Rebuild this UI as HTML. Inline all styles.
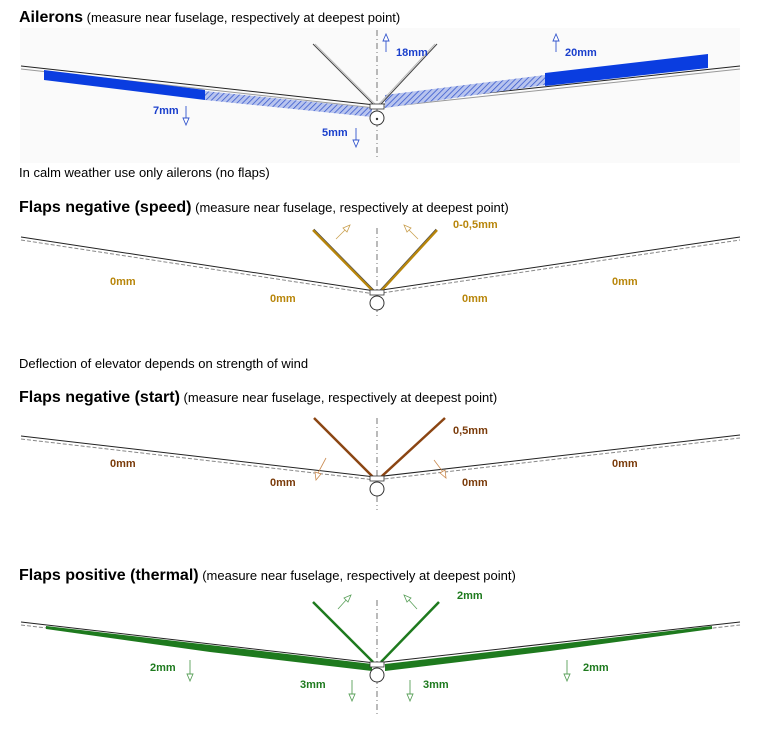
<!DOCTYPE html>
<html><head><meta charset="utf-8"><style>
html,body{margin:0;padding:0;background:#fff;}
svg{display:block;font-family:"Liberation Sans",Arial,sans-serif;}
.t{font-size:16px;font-weight:bold;fill:#000}
.s{font-size:13px;fill:#000;font-weight:normal}
.l{font-size:11px;font-weight:bold}
</style></head><body>
<svg width="762" height="738" viewBox="0 0 762 738" xmlns="http://www.w3.org/2000/svg">
<defs>
<pattern id="h" width="4" height="4" patternUnits="userSpaceOnUse" patternTransform="rotate(45)">
<rect width="4" height="4" fill="#b8c4ee"/><line x1="0" y1="0" x2="0" y2="4" stroke="#3355cc" stroke-width="1.5"/></pattern>
</defs>
<rect x="20" y="28" width="720" height="135" fill="#fafafa"/>

<!-- Section 1 -->
<text x="19" y="22"><tspan class="t">Ailerons</tspan><tspan class="s"> (measure near fuselage, respectively at deepest point)</tspan></text>
<line x1="377" y1="30" x2="377" y2="160" stroke="#555" stroke-dasharray="6,3,1,3" stroke-width="0.8"/>
<polyline points="21,66 375,105 740,66" fill="none" stroke="#222" stroke-width="1"/>
<polyline points="21,69 375,108 740,69" fill="none" stroke="#999" stroke-width="1"/>
<polygon points="44,70 205,90 205,100 44,80" fill="#0a3de0"/>
<polygon points="205,91 372,108 372,117 205,100" fill="url(#h)"/>
<polygon points="385,95 545,75 545,85 385,108" fill="url(#h)"/>
<polygon points="545,73 708,54 708,68 545,86" fill="#0a3de0"/>
<line x1="313" y1="44" x2="373" y2="104" stroke="#444" stroke-width="1"/>
<line x1="315" y1="44" x2="375" y2="104" stroke="#bbb" stroke-width="1"/>
<line x1="437" y1="44" x2="381" y2="104" stroke="#444" stroke-width="1"/>
<line x1="435" y1="44" x2="379" y2="104" stroke="#bbb" stroke-width="1"/>
<circle cx="377" cy="118" r="7" fill="#fff" stroke="#333"/>
<circle cx="377" cy="119" r="1.2" fill="#333"/>
<rect x="370" y="104" width="14" height="5" fill="#fff" stroke="#333" stroke-width="0.8"/>
<g class="l" fill="#1a3fcc">
<text x="396" y="56">18mm</text><text x="565" y="56">20mm</text>
<text x="153" y="114">7mm</text><text x="322" y="136">5mm</text></g>
<g stroke="#3355cc" stroke-width="0.9" fill="#fff">
<line x1="386" y1="52" x2="386" y2="40"/><path d="M383,41 L386,34 L389,41 Z"/>
<line x1="556" y1="52" x2="556" y2="40"/><path d="M553,41 L556,34 L559,41 Z"/>
<line x1="186" y1="106" x2="186" y2="118"/><path d="M183,118 L186,125 L189,118 Z"/>
<line x1="356" y1="128" x2="356" y2="140"/><path d="M353,140 L356,147 L359,140 Z"/></g>

<text x="19" y="177" class="s">In calm weather use only ailerons (no flaps)</text>

<!-- Section 2 -->
<text x="19" y="212"><tspan class="t">Flaps negative (speed)</tspan><tspan class="s"> (measure near fuselage, respectively at deepest point)</tspan></text>
<line x1="377" y1="228" x2="377" y2="318" stroke="#555" stroke-dasharray="6,3,1,3" stroke-width="0.8"/>
<polyline points="21,237 375,291 740,237" fill="none" stroke="#222" stroke-width="1"/>
<polyline points="21,240 375,294 740,240" fill="none" stroke="#888" stroke-width="1" stroke-dasharray="4,2"/>
<line x1="313" y1="230" x2="373" y2="291" stroke="#b8860b" stroke-width="2.5"/>
<line x1="437" y1="230" x2="381" y2="291" stroke="#b8860b" stroke-width="2.5"/>
<line x1="314" y1="229" x2="374" y2="290" stroke="#444" stroke-width="0.6"/>
<line x1="436" y1="229" x2="380" y2="290" stroke="#444" stroke-width="0.6"/>
<g stroke="#c9a050" stroke-width="0.8" fill="#fff">
<line x1="336" y1="239" x2="346" y2="229"/><path d="M343,228 L350,225 L347,232 Z"/>
<line x1="418" y1="239" x2="408" y2="229"/><path d="M411,228 L404,225 L407,232 Z"/></g>
<circle cx="377" cy="303" r="7" fill="#fff" stroke="#333"/>
<rect x="370" y="290" width="14" height="5" fill="#fff" stroke="#333" stroke-width="0.8"/>
<g class="l" fill="#b8860b">
<text x="453" y="228">0-0,5mm</text><text x="110" y="285">0mm</text><text x="270" y="302">0mm</text>
<text x="462" y="302">0mm</text><text x="612" y="285">0mm</text></g>

<text x="19" y="368" class="s">Deflection of elevator depends on strength of wind</text>

<!-- Section 3 -->
<text x="19" y="402"><tspan class="t">Flaps negative (start)</tspan><tspan class="s"> (measure near fuselage, respectively at deepest point)</tspan></text>
<line x1="377" y1="418" x2="377" y2="510" stroke="#555" stroke-dasharray="6,3,1,3" stroke-width="0.8"/>
<polyline points="21,436 375,477 740,435" fill="none" stroke="#222" stroke-width="1"/>
<polyline points="21,439 375,480 740,438" fill="none" stroke="#888" stroke-width="1" stroke-dasharray="4,2"/>
<line x1="314" y1="418" x2="373" y2="477" stroke="#8b4513" stroke-width="2.5"/>
<line x1="445" y1="418" x2="381" y2="477" stroke="#8b4513" stroke-width="2.5"/>
<g stroke="#c98a50" stroke-width="0.8" fill="#fff">
<line x1="326" y1="458" x2="318" y2="473"/><path d="M315,472 L316,480 L321,474 Z"/>
<line x1="434" y1="460" x2="443" y2="472"/><path d="M440,473 L446,478 L445,470 Z"/></g>
<circle cx="377" cy="489" r="7" fill="#fff" stroke="#333"/>
<rect x="370" y="476" width="14" height="5" fill="#fff" stroke="#333" stroke-width="0.8"/>
<g class="l" fill="#7a3b0a">
<text x="453" y="434">0,5mm</text><text x="110" y="467">0mm</text><text x="270" y="486">0mm</text>
<text x="462" y="486">0mm</text><text x="612" y="467">0mm</text></g>

<!-- Section 4 -->
<text x="19" y="580"><tspan class="t">Flaps positive (thermal)</tspan><tspan class="s"> (measure near fuselage, respectively at deepest point)</tspan></text>
<line x1="377" y1="600" x2="377" y2="715" stroke="#555" stroke-dasharray="6,3,1,3" stroke-width="0.8"/>
<polyline points="21,622 375,663 740,622" fill="none" stroke="#222" stroke-width="1"/>
<polyline points="21,625 375,666 740,625" fill="none" stroke="#888" stroke-width="1" stroke-dasharray="4,2"/>
<polygon points="46,626 210,645 372,664 372,671 210,652 46,629" fill="#1e7a1e"/>
<polygon points="385,664 550,645 712,626 712,629 550,651 385,671" fill="#1e7a1e"/>
<line x1="313" y1="602" x2="373" y2="662" stroke="#1e7a1e" stroke-width="2.5"/>
<line x1="439" y1="602" x2="381" y2="662" stroke="#1e7a1e" stroke-width="2.5"/>
<g stroke="#5aa05a" stroke-width="0.8" fill="#fff">
<line x1="338" y1="609" x2="347" y2="599"/><path d="M344,598 L351,595 L348,602 Z"/>
<line x1="417" y1="609" x2="408" y2="599"/><path d="M411,598 L404,595 L407,602 Z"/></g>
<circle cx="377" cy="675" r="7" fill="#fff" stroke="#333"/>
<rect x="370" y="662" width="14" height="5" fill="#fff" stroke="#333" stroke-width="0.8"/>
<g class="l" fill="#1e7a1e">
<text x="457" y="599">2mm</text><text x="150" y="671">2mm</text><text x="300" y="688">3mm</text>
<text x="423" y="688">3mm</text><text x="583" y="671">2mm</text></g>
<g stroke="#5aa05a" stroke-width="0.9" fill="none">
<line x1="190" y1="660" x2="190" y2="680"/><path d="M187,674 L190,681 L193,674 Z" fill="#fff"/>
<line x1="352" y1="680" x2="352" y2="700"/><path d="M349,694 L352,701 L355,694 Z" fill="#fff"/>
<line x1="410" y1="680" x2="410" y2="700"/><path d="M407,694 L410,701 L413,694 Z" fill="#fff"/>
<line x1="567" y1="660" x2="567" y2="680"/><path d="M564,674 L567,681 L570,674 Z" fill="#fff"/></g>
</svg>
</body></html>
